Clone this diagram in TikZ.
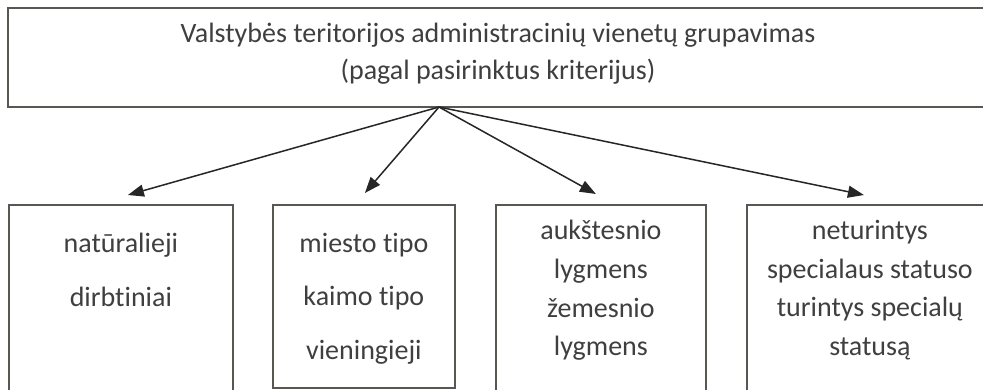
\documentclass[tikz,border=0pt]{standalone}
\usepackage{fontspec}
\setmainfont{Carlito}[Ligatures={NoCommon,NoContextual}]
\usetikzlibrary{positioning,arrows.meta}
\definecolor{framegray}{HTML}{5A5652}
\definecolor{textgray}{HTML}{3F3F3F}
\tikzset{
  flowarrow/.style={-{Triangle[length=16pt,width=12pt]}, line width=1.5pt, draw=black!85},
  framebox/.style={draw=framegray, line width=1.8pt, anchor=north west, inner sep=0pt},
  titletext/.style={text=textgray, align=center, inner sep=0pt, font=\fontsize{28}{37}\selectfont},
  itemtext/.style={text=textgray, align=center, inner sep=0pt, font=\fontsize{28}{53.5}\selectfont},
  itemtext2/.style={text=textgray, align=center, inner sep=0pt, font=\fontsize{28}{38.7}\selectfont}
}

\begin{document}
\begin{tikzpicture}[x=1pt, y=-1pt, >=Latex]
  \useasboundingbox (0,0) rectangle (983,389);
  \clip (0,0) rectangle (983,389);

  \node[framebox, minimum width=980pt, minimum height=99pt] (groupbox) at (7,7) {};
  \node[titletext] (grouptitle) at (498,54) {Valstybės teritorijos administracinių vienetų grupavimas\\(pagal pasirinktus kriterijus)};
  \coordinate (hub) at (439,107);

  % four groups
  \node[framebox, minimum width=224pt, minimum height=195pt] (natural) at (8,204) {};
  \node[framebox, minimum width=182pt, minimum height=183pt] (settlement) at (272,204) {};
  \node[framebox, minimum width=210pt, minimum height=195pt] (level) at (495,204) {};
  \node[framebox, minimum width=246pt, minimum height=195pt] (status) at (746,204) {};

  \node[itemtext, below=29pt of natural.north] (naturaltext) {natūralieji\\dirbtiniai};
  \node[itemtext, below=29pt of settlement.north] (settlementtext) {miesto tipo\\kaimo tipo\\vieningieji};
  \node[itemtext2, below=16pt of level.north] (leveltext) {aukštesnio\\lygmens\\žemesnio\\lygmens};
  \node[itemtext2, below=16pt of status.north] (statustext) {neturintys\\specialaus statuso\\turintys specialų\\statusą};

  \draw[flowarrow] (hub) -- ([xshift=7pt,yshift=9pt]natural.north);
  \draw[flowarrow] (hub) -- ([xshift=1pt,yshift=11pt]settlement.north);
  \draw[flowarrow] (hub) -- ([xshift=-5pt,yshift=10pt]level.north);
  \draw[flowarrow] (hub) -- ([xshift=-6pt,yshift=9pt]status.north);
\end{tikzpicture}
\end{document}
